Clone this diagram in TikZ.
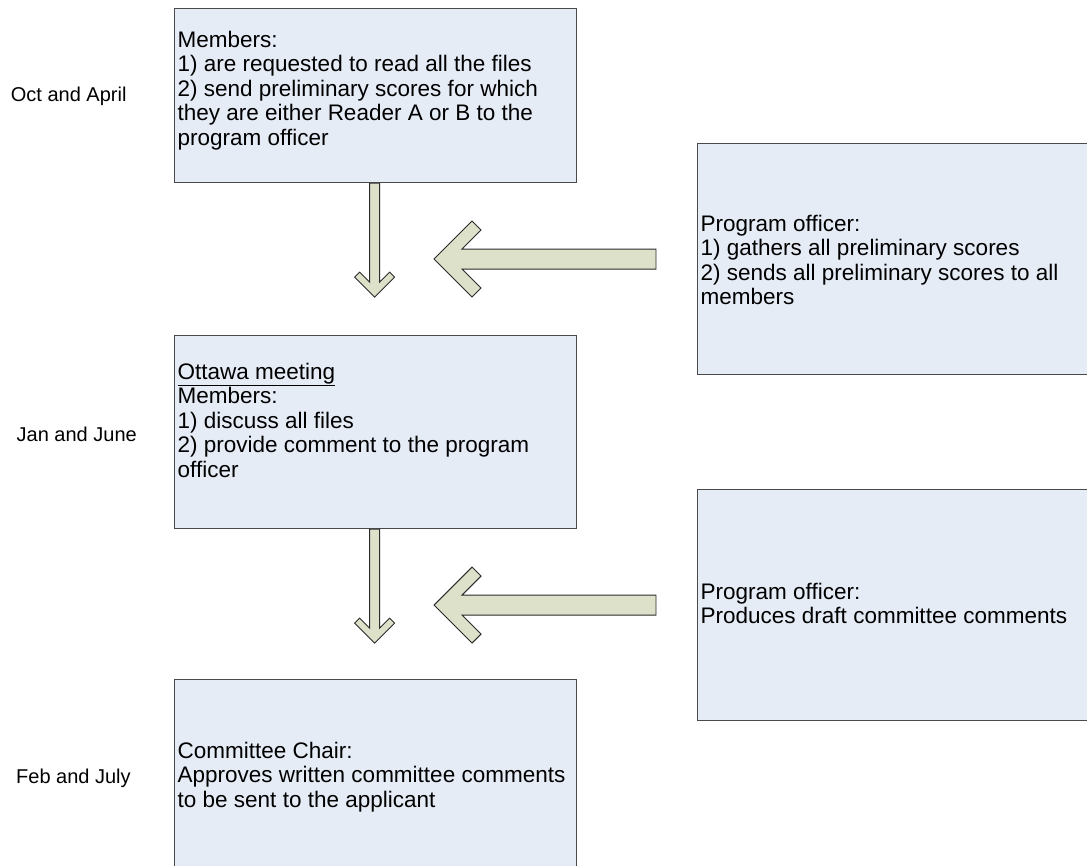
\documentclass[tikz,border=0pt]{standalone}
\usepackage{fontspec}
\setmainfont{Liberation Sans}
\definecolor{boxfill}{HTML}{E6ECF6}
\definecolor{boxline}{HTML}{4A4A4A}
\definecolor{arrfill}{HTML}{DDE1C9}
\definecolor{arrline}{HTML}{2B2B2B}
\tikzset{
  box/.style={draw=boxline, fill=boxfill, line width=1.2pt, anchor=north west, inner sep=0pt, rectangle},
  boxtext/.style={anchor=north west, inner sep=0pt, align=left, font=\fontsize{22.5}{24.5}\selectfont, text=black},
  datelabel/.style={anchor=base west, inner sep=0pt, font=\fontsize{20}{24}\selectfont, text=black},
  blockarrow/.style={draw=arrline, fill=arrfill, line width=0.9pt, line join=miter},
  pics/downarr/.style={code={\draw[blockarrow] (-5,0) -- (-5,99) -- (-15,89) -- (-20,94) -- (0,114) -- (20,94) -- (15,89) -- (5,99) -- (5,0) -- cycle;}},
  pics/leftarr/.style={code={\draw[blockarrow] (0,-10) -- (-194,-10) -- (-175,-29) -- (-184,-38) -- (-222,0) -- (-184,38) -- (-175,29) -- (-194,10) -- (0,10) -- cycle;}},
}
\begin{document}
\begin{tikzpicture}[x=1pt,y=-1pt]
\useasboundingbox (0,0) rectangle (1087,865);
\clip (0,0) rectangle (1087,865);
% boxes
\node[box, minimum width=402pt, minimum height=174pt] (b1) at (174,8) {};
\node[box, minimum width=402pt, minimum height=193pt] (b2) at (174,335) {};
\node[box, minimum width=402pt, minimum height=193pt] (b3) at (174,679) {};
\node[box, minimum width=400pt, minimum height=231pt] (r1) at (697,143) {};
\node[box, minimum width=400pt, minimum height=231pt] (r2) at (697,489) {};
% texts
\node[boxtext] (t1) at (177.5,29.85) {\strut Members:\\1) are requested to read all the files\\2) send preliminary scores for which\\they are either Reader A or B to the\\program officer};
\node[boxtext] (t2) at (177.5,361.85) {\strut\underline{Ottawa meeting}\\Members:\\1) discuss all files\\2) provide comment to the program\\officer};
\node[boxtext] (t3) at (177.5,740.85) {\strut Committee Chair:\\Approves written committee comments\\to be sent to the applicant};
\node[boxtext] (tr1) at (700.5,213.85) {\strut Program officer:\\1) gathers all preliminary scores\\2) sends all preliminary scores to all\\members};
\node[boxtext] (tr2) at (700.5,581.85) {\strut Program officer:\\Produces draft committee comments};
% date labels
\node[datelabel] (d1) at (10.7,101) {Oct and April};
\node[datelabel] (d2) at (16.5,441) {Jan and June};
\node[datelabel] (d3) at (16,783) {Feb and July};
% block arrows
\pic at ([xshift=-1pt]b1.south) {downarr};
\pic at ([xshift=-1pt]b2.south) {downarr};
\pic at ([xshift=-41pt]r1.west) {leftarr};
\pic at ([xshift=-41pt]r2.west) {leftarr};
\end{tikzpicture}
\end{document}
